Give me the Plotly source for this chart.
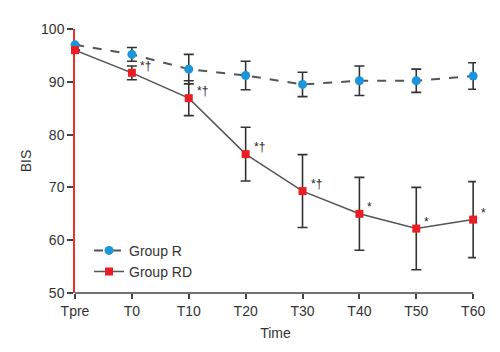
import plotly.graph_objects as go

categories = ["Tpre", "T0", "T10", "T20", "T30", "T40", "T50", "T60"]
r_mean = [97.0, 95.2, 92.4, 91.2, 89.5, 90.2, 90.2, 91.1]
r_sd = [0.0, 1.3, 2.8, 2.7, 2.3, 2.8, 2.2, 2.5]
rd_mean = [96.0, 91.7, 86.9, 76.3, 69.3, 65.0, 62.2, 63.9]
rd_sd = [0.0, 1.3, 3.3, 5.1, 6.9, 6.9, 7.8, 7.2]
sig_labels = ["", "*†", "*†", "*†", "*†", "*", "*", "*"]

fig = go.Figure()
fig.add_trace(go.Scatter(
    x=categories, y=r_mean, name="Group R", mode="lines+markers",
    line=dict(color="#555555", width=2, dash="dash"),
    marker=dict(symbol="circle", size=9, color="#1b95dc"),
    error_y=dict(type="data", array=r_sd, color="#333333", thickness=1.6, width=5),
    cliponaxis=False,
))
fig.add_trace(go.Scatter(
    x=categories, y=rd_mean, name="Group RD", mode="lines+markers",
    line=dict(color="#555555", width=1.5),
    marker=dict(symbol="square", size=8, color="#ec1c24"),
    error_y=dict(type="data", array=rd_sd, color="#333333", thickness=1.6, width=5),
    cliponaxis=False,
))

for c, m, s in zip(categories, rd_mean, sig_labels):
    if s:
        fig.add_annotation(x=c, y=m, text=s, showarrow=False, xanchor="left",
                           yanchor="middle", xshift=6, yshift=7,
                           font=dict(size=12, color="#222222", family="Liberation Sans, Arial"))

# x-axis baseline ending exactly at the last category
fig.add_shape(type="line", xref="x", yref="paper", x0=0, x1=len(categories) - 1,
              y0=0, y1=0, line=dict(color="#444444", width=1.5), layer="below")

fig.update_layout(
    width=500, height=352,
    margin=dict(l=75, r=24, t=29, b=59),
    paper_bgcolor="white", plot_bgcolor="white",
    font=dict(family="Liberation Sans, Arial", size=14, color="#333333"),
    showlegend=True,
    legend=dict(x=0.035, y=0.12, xanchor="left", yanchor="middle",
                bgcolor="rgba(0,0,0,0)", font=dict(size=14, color="#333333"),
                tracegroupgap=0, itemwidth=30),
    xaxis=dict(
        type="category", range=[0, 7.05], showgrid=False, zeroline=False,
        showline=False,
        ticks="outside", ticklen=5, tickcolor="#444444", tickwidth=1.5,
        title=dict(text="Time", standoff=10, font=dict(size=14)),
        tickfont=dict(size=14),
    ),
    yaxis=dict(
        range=[50, 100], tickvals=[50, 60, 70, 80, 90, 100],
        showgrid=False, zeroline=False, layer="below traces",
        showline=True, linecolor="#e8312f", linewidth=1.5,
        ticks="outside", ticklen=6, tickcolor="#444444", tickwidth=1.5,
        title=dict(text="BIS", standoff=6, font=dict(size=14)),
        tickfont=dict(size=14),
    ),
)

fig.write_html("out.html")
